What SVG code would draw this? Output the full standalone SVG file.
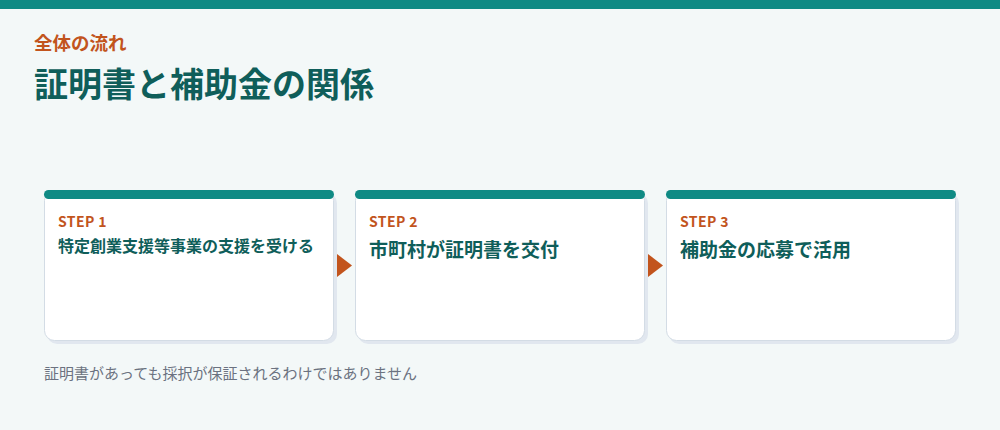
<svg xmlns="http://www.w3.org/2000/svg" width="1000" height="430" viewBox="0 0 1000 430">
<style>
.cjk{font-family:"Noto Sans CJK JP","Noto Sans",sans-serif}
.kicker{font-size:18.5px;font-weight:700;fill:#c2541d}
.h1{font-size:34px;font-weight:700;fill:#0f5e5a}
.card{fill:#ffffff;stroke:#d3dce5;stroke-width:1}
.shadow{fill:#e1e7ef}
.bar{fill:#0f8a84}
.step{font-family:"Noto Sans CJK JP","Noto Sans",sans-serif;font-size:14px;font-weight:700;fill:#c2541d;letter-spacing:0.4px}
.title{font-weight:700;fill:#0f5e5a}
.arrow{fill:#c2541d}
.note{font-size:15px;fill:#6b7280}
</style>
<rect x="0" y="0" width="1000" height="430" fill="#f3f8f8"/>
<rect x="0" y="0" width="1000" height="9" fill="#0f8a84"/>
<text class="cjk kicker" x="34" y="50">全体の流れ</text>
<text class="cjk h1" x="34" y="97">証明書と補助金の関係</text>
<g id="step1">
<rect class="shadow" x="47" y="193" width="290" height="151" rx="10"/>
<rect class="card" x="44.5" y="190.5" width="289" height="150" rx="10"/>
<rect class="bar" x="44" y="190" width="290" height="9" rx="4.5"/>
<text class="step" x="58" y="227">STEP 1</text>
<text class="cjk title" x="58" y="252" font-size="16">特定創業支援等事業の支援を受ける</text>
</g>
<g id="step2">
<rect class="shadow" x="358" y="193" width="290" height="151" rx="10"/>
<rect class="card" x="355.5" y="190.5" width="289" height="150" rx="10"/>
<rect class="bar" x="355" y="190" width="290" height="9" rx="4.5"/>
<text class="step" x="369" y="227">STEP 2</text>
<text class="cjk title" x="369" y="257" font-size="19">市町村が証明書を交付</text>
</g>
<g id="step3">
<rect class="shadow" x="669" y="193" width="290" height="151" rx="10"/>
<rect class="card" x="666.5" y="190.5" width="289" height="150" rx="10"/>
<rect class="bar" x="666" y="190" width="290" height="9" rx="4.5"/>
<text class="step" x="680" y="227">STEP 3</text>
<text class="cjk title" x="680" y="257" font-size="19">補助金の応募で活用</text>
</g>
<g id="connectors">
<polygon class="arrow" points="337,254 352,265.5 337,277"/>
<polygon class="arrow" points="648,254 663,265.5 648,277"/>
</g>
<text class="cjk note" x="44" y="379">証明書があっても採択が保証されるわけではありません</text>
</svg>
